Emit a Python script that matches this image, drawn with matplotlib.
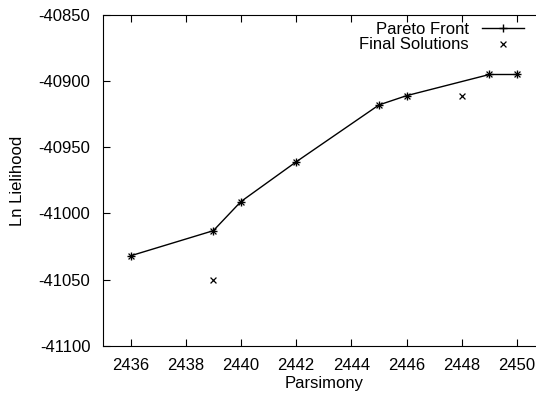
import matplotlib
matplotlib.use("Agg")
import matplotlib.pyplot as plt

plt.rcParams['font.family'] = ['Liberation Sans', 'DejaVu Sans']
plt.rcParams['axes.unicode_minus'] = False

# pareto front
px = [2436, 2439, 2440, 2442, 2445, 2446, 2449, 2450]
py = [-41032, -41013, -40991, -40961, -40918, -40911, -40895, -40895]

# final solutions
fx = [2436, 2439, 2439, 2440, 2442, 2445, 2446, 2448, 2449, 2450]
fy = [-41032, -41013, -41050, -40991, -40961, -40918, -40911, -40911, -40895, -40895]

fig = plt.figure(figsize=(5.36, 3.93), dpi=100)
ax = fig.add_axes([0.192, 0.12, 0.824, 0.842])

ax.plot(px, py, color='black', lw=1, marker='+', ms=6, mew=1, label='Pareto Front')
ax.scatter(fx, fy, color='black', marker='x', s=18, linewidths=0.9, label='Final Solutions')

ax.set_xlim(2435, 2451)
ax.set_ylim(-41100, -40850)
ax.set_xticks([2436, 2438, 2440, 2442, 2444, 2446, 2448, 2450])
ax.set_yticks([-41100, -41050, -41000, -40950, -40900, -40850])
ax.tick_params(direction='in', top=True, right=True, labelsize=12, length=5, pad=9)

ax.set_xlabel('Parsimony', fontsize=12, labelpad=2)
ax.set_ylabel('Ln Lielihood', fontsize=12, labelpad=10)

ax.legend(loc='upper right', bbox_to_anchor=(0.98, 1.015), frameon=False, markerfirst=False,
          fontsize=12, handlelength=2.5, borderpad=0.2, labelspacing=0.0, handletextpad=0.8)

fig.savefig('out.png', dpi=100)
